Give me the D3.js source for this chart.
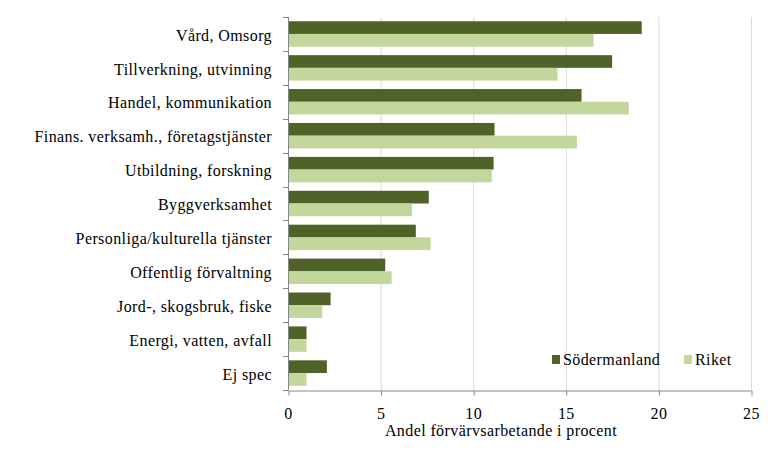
<!DOCTYPE html>
<html>
<head>
<meta charset="utf-8">
<script src="https://cdn.jsdelivr.net/npm/d3@7"></script>
<style>
  body { margin: 0; background: #fff; }
  svg text { font-family: "Liberation Serif", "Times New Roman", serif; letter-spacing: 0.4px; }
</style>
</head>
<body>
<div id="chart"></div>
<script>
"use strict"

const categories = [
  "Vård, Omsorg",
  "Tillverkning, utvinning",
  "Handel, kommunikation",
  "Finans. verksamh., företagstjänster",
  "Utbildning, forskning",
  "Byggverksamhet",
  "Personliga/kulturella tjänster",
  "Offentlig förvaltning",
  "Jord-, skogsbruk, fiske",
  "Energi, vatten, avfall",
  "Ej spec"
];
const sodermanland = [19.1, 17.5, 15.85, 11.15, 11.1, 7.6, 6.9, 5.25, 2.3, 1.0, 2.1];
const riket = [16.5, 14.55, 18.4, 15.6, 11.0, 6.7, 7.7, 5.6, 1.85, 1.0, 1.0];
const seriesNames = ["Södermanland", "Riket"];
const seriesColors = ["#4f6228", "#c3d69b"];
const xTicks = [0, 5, 10, 15, 20, 25];

const width = 772, height = 450;
const margin = {top: 17, right: 21, bottom: 60, left: 288};

let svg = d3.select('#chart')
  .append('svg')
  .attr('width', width)
  .attr('height', height);

let x = d3.scaleLinear()
  .domain([0, 25])
  .range([margin.left, width - margin.right]);

let y = d3.scaleBand()
  .domain(categories)
  .range([margin.top, height - margin.bottom])
  .paddingInner(0.25)
  .paddingOuter(0.125);

let inner = d3.scaleBand()
  .domain(seriesNames)
  .range([0, y.bandwidth()]);

// Gridlines
svg.append('g')
  .selectAll('line')
  .data(xTicks.slice(1))
  .enter()
    .append('line')
      .attr('x1', (d) => x(d) + 0.5)
      .attr('x2', (d) => x(d) + 0.5)
      .attr('y1', margin.top)
      .attr('y2', height - margin.bottom)
      .attr('stroke', '#d9d9d9')
      .attr('stroke-width', 1);

// Bars
let rows = categories.map((c, i) => ({cat: c, values: [sodermanland[i], riket[i]]}));
let groups = svg.append('g')
  .selectAll('g')
  .data(rows)
  .enter()
    .append('g')
      .attr('transform', (d) => `translate(0,${y(d.cat)})`);

groups.selectAll('rect')
  .data((d) => d.values.map((v, j) => ({name: seriesNames[j], value: v, color: seriesColors[j]})))
  .enter()
    .append('rect')
      .attr('x', x(0))
      .attr('y', (d) => inner(d.name))
      .attr('width', (d) => x(d.value) - x(0))
      .attr('height', inner.bandwidth())
      .attr('fill', (d) => d.color);

// X axis
let xAxis = svg.append('g')
  .attr('transform', `translate(0,${height - margin.bottom + 0.5})`)
  .call(d3.axisBottom(x).tickValues(xTicks).tickSize(5).tickSizeOuter(0).tickPadding(12));
xAxis.attr('font-size', 16);
xAxis.select('.domain').attr('stroke', '#868686');
xAxis.selectAll('.tick line').attr('stroke', '#868686').attr('transform', 'translate(0.5,0)');
xAxis.selectAll('.tick text').attr('fill', '#000');

// Y axis: ticks between categories
let boundaries = d3.range(categories.length + 1).map((i) => margin.top + i * (height - margin.top - margin.bottom) / categories.length);
svg.append('line')
  .attr('x1', x(0) + 0.5)
  .attr('x2', x(0) + 0.5)
  .attr('y1', margin.top)
  .attr('y2', height - margin.bottom)
  .attr('stroke', '#868686');
svg.append('g')
  .selectAll('line')
  .data(boundaries)
  .enter()
    .append('line')
      .attr('x1', x(0) - 5)
      .attr('x2', x(0))
      .attr('y1', (d) => Math.round(d) + 0.5)
      .attr('y2', (d) => Math.round(d) + 0.5)
      .attr('stroke', '#868686');

svg.append('g')
  .selectAll('text')
  .data(categories)
  .enter()
    .append('text')
      .attr('x', x(0) - 16)
      .attr('y', (d) => y(d) + y.bandwidth() / 2)
      .attr('dy', '0.42em')
      .attr('text-anchor', 'end')
      .attr('font-size', 16)
      .text((d) => d);

// Axis title
svg.append('text')
  .attr('x', 501)
  .attr('y', 436)
  .attr('text-anchor', 'middle')
  .attr('font-size', 16)
  .text('Andel förvärvsarbetande i procent');

// Legend
let legendX = [552, 684];
let legend = svg.append('g')
  .selectAll('g')
  .data(seriesNames)
  .enter()
    .append('g')
      .attr('transform', (d, i) => `translate(${legendX[i]},355)`);
legend.append('rect')
  .attr('width', 8)
  .attr('height', 9)
  .attr('fill', (d, i) => seriesColors[i]);
legend.append('text')
  .attr('x', 11)
  .attr('y', 4.5)
  .attr('dy', '0.36em')
  .attr('font-size', 16)
  .text((d) => d);
</script>
</body>
</html>
